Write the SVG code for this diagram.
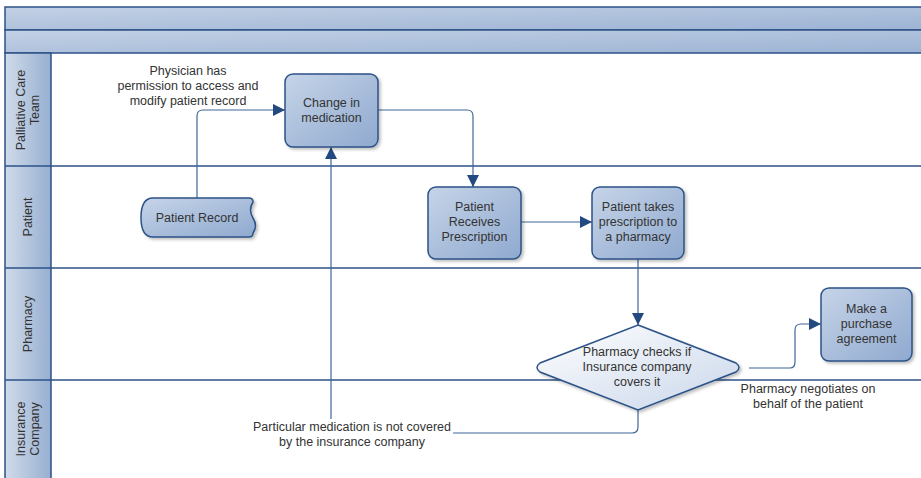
<svg xmlns="http://www.w3.org/2000/svg" width="921" height="478" viewBox="0 0 921 478">
  <defs>
    <linearGradient id="band" x1="0" y1="0" x2="1" y2="1">
      <stop offset="0" stop-color="#c3d1e5"/>
      <stop offset="1" stop-color="#9cb3d4"/>
    </linearGradient>
    <linearGradient id="laneHead" x1="0" y1="0" x2="1" y2="0">
      <stop offset="0" stop-color="#d0dbea"/>
      <stop offset="1" stop-color="#97afd1"/>
    </linearGradient>
    <linearGradient id="nodeFill" x1="0" y1="0" x2="1" y2="1">
      <stop offset="0" stop-color="#c6d4e8"/>
      <stop offset="1" stop-color="#8fa9cf"/>
    </linearGradient>
    <linearGradient id="decFill" x1="0" y1="0" x2="1" y2="1">
      <stop offset="0" stop-color="#ffffff"/>
      <stop offset="1" stop-color="#c9d6ea"/>
    </linearGradient>
    <filter id="shadow" x="-10%" y="-10%" width="130%" height="130%">
      <feDropShadow dx="2" dy="2" stdDeviation="1.5" flood-color="#000" flood-opacity="0.25"/>
    </filter>
    <marker id="arrow" viewBox="0 0 12 12" refX="12" refY="6" markerWidth="12" markerHeight="12" markerUnits="userSpaceOnUse" orient="auto">
      <path d="M0,0 L12,6 L0,12 z" fill="#234a80"/>
    </marker>
  </defs>
  <style>
    .t { font-family: "Liberation Sans", Arial, sans-serif; font-size: 12.5px; fill: #333333; text-anchor: middle; }
    .node { fill: url(#nodeFill); stroke: #2c5287; stroke-width: 1.5; filter: url(#shadow); }
    .lane { stroke: #2c5287; stroke-width: 1.5; fill: none; }
    .conn { stroke: #3f6699; stroke-width: 1.2; fill: none; }
  </style>

  <rect x="0" y="0" width="921" height="478" fill="#ffffff"/>

  <!-- pool header bands -->
  <g id="pool-header">
    <rect x="5" y="7" width="920" height="23" fill="url(#band)" stroke="#2c5287" stroke-width="1.5"/>
    <rect x="5" y="30" width="920" height="23" fill="url(#band)" stroke="#2c5287" stroke-width="1.5"/>
  </g>

  <!-- swimlanes -->
  <g id="lanes">
    <rect x="5" y="53" width="46" height="430" fill="url(#laneHead)" stroke="#2c5287" stroke-width="1.5"/>
    <line class="lane" x1="5" y1="166" x2="921" y2="166"/>
    <line class="lane" x1="5" y1="268" x2="921" y2="268"/>
    <line class="lane" x1="5" y1="380" x2="921" y2="380"/>
    <text class="t" transform="translate(28,110) rotate(-90)"><tspan x="0" y="-3">Palliative Care</tspan><tspan x="0" y="11">Team</tspan></text>
    <text class="t" transform="translate(28,217) rotate(-90)"><tspan x="0" y="4">Patient</tspan></text>
    <text class="t" transform="translate(28,324) rotate(-90)"><tspan x="0" y="4">Pharmacy</tspan></text>
    <text class="t" transform="translate(28,429) rotate(-90)"><tspan x="0" y="-3">Insurance</tspan><tspan x="0" y="11">Company</tspan></text>
  </g>

  <!-- connectors -->
  <g id="connectors">
    <path class="conn" d="M197,198 V116 Q197,110 203,110 H285" marker-end="url(#arrow)"/>
    <path class="conn" d="M378,110 H467 Q473,110 473,116 V187" marker-end="url(#arrow)"/>
    <path class="conn" d="M521,222 H592" marker-end="url(#arrow)"/>
    <path class="conn" d="M638,259 V325" marker-end="url(#arrow)"/>
    <path class="conn" d="M749,368 H790 Q795,368 795,362 V330 Q795,324 801,324 H821" marker-end="url(#arrow)"/>
    <path class="conn" d="M638,410 V427 Q638,433 632,433 H453"/>
    <path class="conn" d="M331,419 V147" marker-end="url(#arrow)"/>
    <text class="t"><tspan x="188" y="75">Physician has</tspan><tspan x="188" y="90">permission to access and</tspan><tspan x="188" y="105">modify patient record</tspan></text>
    <text class="t"><tspan x="808" y="393">Pharmacy negotiates on</tspan><tspan x="808" y="408">behalf of the patient</tspan></text>
    <text class="t"><tspan x="352" y="431">Particular medication is not covered</tspan><tspan x="352" y="446">by the insurance company</tspan></text>
  </g>

  <g id="patient-record">
    <path class="node" d="M153,198 H249 Q253,198 253,202 Q248,210 253,218 Q258,226 253,233 Q253,237 249,237 H153 Q141,237 141,217.5 Q141,198 153,198 z"/>
    <text class="t" x="197" y="222">Patient Record</text>
  </g>

  <g id="change-medication">
    <rect class="node" x="285" y="74" width="93" height="73" rx="8"/>
    <text class="t"><tspan x="331.5" y="107">Change in</tspan><tspan x="331.5" y="122">medication</tspan></text>
  </g>

  <g id="receives-prescription">
    <rect class="node" x="428" y="187" width="93" height="72" rx="8"/>
    <text class="t"><tspan x="474.5" y="211">Patient</tspan><tspan x="474.5" y="226">Receives</tspan><tspan x="474.5" y="241">Prescription</tspan></text>
  </g>

  <g id="takes-prescription">
    <rect class="node" x="592" y="187" width="92" height="72" rx="8"/>
    <text class="t"><tspan x="638" y="211">Patient takes</tspan><tspan x="638" y="226">prescription to</tspan><tspan x="638" y="241">a pharmacy</tspan></text>
  </g>

  <g id="pharmacy-check">
    <path d="M638,325 L736,363 Q742,367.5 736,372 L638,410 L540,372 Q534,367.5 540,363 z" fill="url(#decFill)" stroke="#2c5287" stroke-width="1.5" filter="url(#shadow)"/>
    <text class="t"><tspan x="637" y="356">Pharmacy checks if</tspan><tspan x="637" y="371">Insurance company</tspan><tspan x="637" y="386">covers it</tspan></text>
  </g>

  <g id="purchase-agreement">
    <rect class="node" x="821" y="288" width="91" height="73" rx="8"/>
    <text class="t"><tspan x="866.5" y="313">Make a</tspan><tspan x="866.5" y="328">purchase</tspan><tspan x="866.5" y="343">agreement</tspan></text>
  </g>
</svg>
